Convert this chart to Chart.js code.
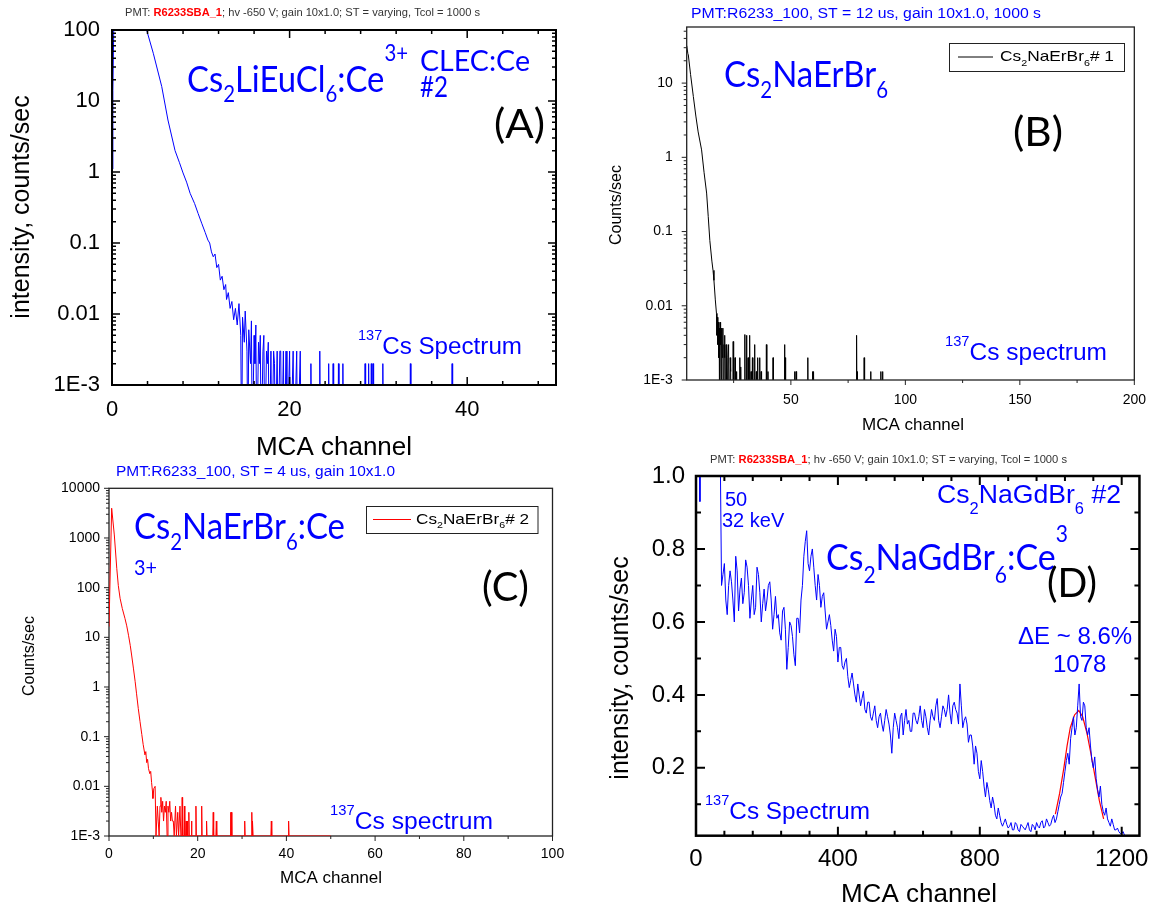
<!DOCTYPE html>
<html>
<head>
<meta charset="utf-8">
<script src="https://cdn.jsdelivr.net/npm/chart.js@4.4.1/dist/chart.umd.min.js"></script>
<style>
  html, body { margin: 0; padding: 0; background: #fff; }
  #wrap { position: relative; width: 1158px; height: 913px; overflow: hidden; background: #fff; }
  #wrap canvas { position: absolute; left: 0; top: 0; }
</style>
</head>
<body>
<div id="wrap">
  <canvas id="pa" width="1158" height="913"></canvas>
  <canvas id="pb" width="1158" height="913"></canvas>
  <canvas id="pc" width="1158" height="913"></canvas>
  <canvas id="pd" width="1158" height="913"></canvas>
</div>
<script>
// ---- data ----
// (A) Cs2LiEuCl6:Ce, [channel, counts/sec]
const aSpec = [[0,1.1],[0.1,14],[0.3,900],[2,500],[3.9,100],[4.65,47],[5.6,16],[6.3,5.4],[7.1,2.0],[7.6,1.35],[8.0,0.97],[8.4,0.72],[8.8,0.5],[9.3,0.36],[9.7,0.26],[10.1,0.19],[10.5,0.14],[10.8,0.11],[11.0,0.1],[11.2,0.075],[11.4,0.064],[11.6,0.07],[11.8,0.045],[12.0,0.05],[12.2,0.03],[12.4,0.034],[12.6,0.022],[12.8,0.026],[12.9,0.016],[13.1,0.02],[13.3,0.012],[13.5,0.015],[13.7,0.0083],[13.9,0.012],[14.1,0.007],[14.3,0.014],[14.5,0.005],[14.6,0],[14.7,0.009],[14.9,0.004],[15.0,0.011],[15.2,0.003],[15.3,0],[15.4,0.006],[15.6,0.002],[15.7,0.008],[15.8,0],[16.0,0.005],[16.1,0.002],[16.2,0.007],[16.3,0],[16.5,0.004],[16.6,0.002],[16.7,0.005],[16.8,0],[17.0,0.003],[17.1,0.005],[17.2,0],[17.4,0.003],[17.5,0.002],[17.6,0.004],[17.7,0],[17.9,0.003],[18.0,0],[18.2,0.003],[18.3,0.002],[18.4,0],[18.6,0.003],[18.7,0],[18.9,0.003],[19.0,0.003],[19.1,0],[19.3,0.003],[19.4,0],[19.6,0.003],[19.7,0],[20.0,0.003],[20.1,0],[20.4,0.003],[20.5,0],[20.8,0.003],[20.9,0],[21.2,0.003],[21.3,0]];
const aSpikeCh  = [22.4, 23.4, 24.4, 24.9, 25.5, 26.0, 28.5, 28.9, 29.2, 29.4, 30.5, 33.6, 38.3];
const aSpikeCps = [0.002, 0.003, 0.002, 0.002, 0.002, 0.002, 0.002, 0.002, 0.002, 0.002, 0.002, 0.002, 0.002];

// (B) Cs2NaErBr6 #1
const bSpec = [[4.5,32],[5.0,25],[5.2,24],[6.2,13],[7.4,6.6],[8.5,3.6],[9.5,2.2],[11.0,1.26],[12.1,0.62],[13.2,0.33],[13.9,0.16],[14.6,0.076],[15.5,0.04],[16.0,0.03],[16.4,0.022],[17.0,0.012],[17.5,0.0079],[17.7,0.004],[17.9,0.007],[18.1,0.003],[18.3,0.006],[18.5,0.002],[18.7,0.005],[18.9,0],[19.1,0.006],[19.3,0.003],[19.5,0.005],[19.7,0],[19.9,0.004],[20.1,0.002],[20.3,0.005],[20.5,0],[20.8,0.003],[21.0,0.002],[21.2,0.004],[21.4,0],[21.7,0.003],[21.9,0.002],[22.1,0],[22.5,0.002],[22.8,0.003],[23.0,0],[23.5,0.002],[23.7,0.0013],[24.0,0]];
const bSpikeCh  = [24.8, 25.6, 26.3, 27.7, 28.2, 29.9, 30.6, 31.3, 32.0, 32.6, 33.2, 34.2, 34.9, 35.5, 36.4, 37.0, 39.3, 40.0, 42.2, 47.2, 47.5, 51.6, 52.3, 57.4, 59.5, 60.0, 78.7, 79.1, 82.0, 84.9, 89.3, 90.0];
const bSpikeCps = [0.0033, 0.002, 0.0013, 0.002, 0.0015, 0.0041, 0.004, 0.002, 0.004, 0.0013, 0.002, 0.003, 0.0013, 0.002, 0.002, 0.0013, 0.003, 0.0013, 0.002, 0.003, 0.002, 0.0013, 0.0013, 0.002, 0.0013, 0.0013, 0.004, 0.0013, 0.002, 0.0013, 0.0013, 0.0013];

// (C) Cs2NaErBr6:Ce #2
const cSpec = [[0,16.5],[0.6,3970],[1.2,1150],[1.75,245],[2.1,110],[2.5,61],[3.0,38],[3.6,24],[4.0,17],[4.4,11],[4.8,6.8],[5.1,4.4],[5.5,2.4],[5.9,1.28],[6.2,0.75],[6.6,0.37],[7.0,0.2],[7.4,0.11],[7.7,0.07],[8.1,0.043],[8.3,0.05],[8.5,0.03],[8.7,0.035],[8.9,0.023],[9.2,0.018],[9.4,0.02],[9.6,0.012],[9.8,0.008],[9.9,0.0057],[10.1,0.009],[10.4,0.01],[10.6,0],[10.9,0.004],[11.1,0.002],[11.3,0],[11.5,0.004],[11.7,0.006],[11.9,0.003],[12.1,0.005],[12.3,0.002],[12.5,0.004],[12.7,0.003],[12.9,0.005],[13.1,0],[13.3,0.004],[13.5,0.003],[13.7,0.005],[13.9,0.002],[14.1,0.003],[14.3,0.002],[14.5,0.002],[14.7,0],[15.0,0.004],[15.2,0],[15.5,0.003],[15.7,0],[16.0,0.004],[16.2,0],[50,0]];
const cSpikeCh  = [16.5, 17.0, 17.4, 17.6, 18.0, 18.6, 19.6, 20.9, 22.0, 23.5, 24.2, 27.4, 27.6, 30.6, 32.2, 32.4, 36.6, 40.5];
const cSpikeCps = [0.006, 0.004, 0.002, 0.002, 0.003, 0.002, 0.004, 0.004, 0.002, 0.003, 0.002, 0.003, 0.003, 0.002, 0.003, 0.002, 0.002, 0.002];

// (D) Cs2NaGdBr6:Ce, linear counts/sec
// channels 64, 72, ... 1208
const dFirstCh = 64, dStepCh = 8;
const dCps = [
  1.20, 0.70, 0.76, 0.62, 0.74, 0.66, 0.78, 0.63, 0.72, 0.68,
  0.75, 0.61, 0.70, 0.64, 0.73, 0.60, 0.69, 0.66, 0.71, 0.58,
  0.67, 0.62, 0.55, 0.64, 0.47, 0.60, 0.56, 0.48, 0.61, 0.66,
  0.78, 0.85, 0.74, 0.80, 0.70, 0.73, 0.64, 0.68, 0.58, 0.62,
  0.55, 0.58, 0.49, 0.53, 0.47, 0.50, 0.42, 0.46, 0.40, 0.43,
  0.37, 0.41, 0.35, 0.38, 0.33, 0.37, 0.31, 0.35, 0.30, 0.36,
  0.32, 0.24, 0.35, 0.31, 0.34, 0.29, 0.36, 0.33, 0.30, 0.35,
  0.32, 0.37, 0.31, 0.34, 0.29, 0.36, 0.33, 0.39, 0.31, 0.37,
  0.34, 0.40, 0.32, 0.38, 0.35, 0.43, 0.31, 0.34, 0.27, 0.29,
  0.21, 0.24, 0.17, 0.19, 0.12, 0.14, 0.09, 0.10, 0.06, 0.07,
  0.04, 0.06, 0.035, 0.05, 0.03, 0.045, 0.025, 0.04, 0.03, 0.05,
  0.025, 0.04, 0.05, 0.035, 0.055, 0.04, 0.05, 0.045, 0.07, 0.06,
  0.10, 0.13, 0.19, 0.24, 0.28, 0.34, 0.31, 0.43, 0.33, 0.37,
  0.29, 0.26, 0.20, 0.17, 0.12, 0.10, 0.07, 0.06, 0.04, 0.045,
  0.03, 0.025, 0.02, 0.015
];
// in-between channels 68, 76, ... 1204
const dMidFirstCh = 68;
const dCpsMid = [
  1.10, 0.73, 0.66, 0.70, 0.71, 0.60, 0.74, 0.69, 0.65, 0.77,
  0.70, 0.66, 0.62, 0.75, 0.68, 0.65, 0.63, 0.70, 0.66, 0.62,
  0.61, 0.57, 0.63, 0.58, 0.53, 0.59, 0.51, 0.61, 0.57, 0.70,
  0.82, 0.76, 0.78, 0.75, 0.66, 0.70, 0.67, 0.63, 0.60, 0.59,
  0.52, 0.56, 0.53, 0.48, 0.49, 0.45, 0.44, 0.43, 0.38, 0.40,
  0.39, 0.36, 0.38, 0.34, 0.35, 0.33, 0.34, 0.32, 0.33, 0.34,
  0.29, 0.31, 0.33, 0.28, 0.35, 0.33, 0.32, 0.30, 0.35, 0.33,
  0.34, 0.33, 0.36, 0.31, 0.33, 0.34, 0.37, 0.33, 0.34, 0.36,
  0.36, 0.35, 0.37, 0.36, 0.32, 0.37, 0.33, 0.32, 0.29, 0.26,
  0.26, 0.19, 0.22, 0.15, 0.16, 0.11, 0.12, 0.07, 0.09, 0.05,
  0.05, 0.045, 0.04, 0.03, 0.05, 0.03, 0.045, 0.035, 0.04, 0.03,
  0.045, 0.03, 0.04, 0.05, 0.035, 0.06, 0.04, 0.06, 0.05, 0.08,
  0.12, 0.16, 0.22, 0.21, 0.31, 0.29, 0.37, 0.34, 0.38, 0.31,
  0.31, 0.22, 0.23, 0.14, 0.15, 0.08, 0.09, 0.05, 0.06, 0.03,
  0.035, 0.02, 0.025
];
const dLowCh = [10, 11, 12];        // low-channel noise spike
const dLowCps = [1.5, 0.93, 1.5];
const dFitCh  = [1013, 1025, 1037, 1046, 1055, 1067, 1079, 1090, 1102, 1113, 1125, 1137, 1149];
const dFitCps = [0.073, 0.13, 0.20, 0.26, 0.31, 0.345, 0.357, 0.34, 0.295, 0.24, 0.175, 0.11, 0.06];

// tick labels
const logLabels = { '-3': '1E-3', '-2': '0.01', '-1': '0.1', '0': '1', '1': '10', '2': '100', '3': '1000', '4': '10000' };
const aXLabels = [0, 20, 40];
const bXLabels = [50, 100, 150, 200];
const cXLabels = [0, 20, 40, 60, 80, 100];
const dXLabels = [0, 400, 800, 1200];
const dYLabels = [0.2, 0.4, 0.6, 0.8, 1.0];

// ---- helpers ----
const SANS = "'Liberation Sans', Arial, sans-serif";
const CAL = "Lato, 'Open Sans', sans-serif";
const BLUE = '#0000ff';
const PAGE_W = 1158, PAGE_H = 913;
Chart.defaults.font.family = SANS;
Chart.defaults.color = '#000';

function spectrum(spec, spikeCh, spikeCps, half, floor) {
  const pts = spec.map(([x, y]) => ({ x, y }));
  spikeCh.forEach((c, i) => {
    pts.push({ x: c - half, y: 0 }, { x: c, y: spikeCps[i] }, { x: c + half, y: 0 });
  });
  pts.sort((p, q) => p.x - q.x);
  return pts.map(p => ({ x: p.x, y: p.y > 0 ? p.y : floor }));
}

function logTicks(min, max) {
  const out = [];
  for (let e = Math.floor(Math.log10(min)); e <= Math.ceil(Math.log10(max)); e++) {
    for (let m = 1; m <= 9; m++) {
      const v = parseFloat((m * Math.pow(10, e)).toPrecision(6));
      if (v >= min * 0.9999 && v <= max * 1.0001) out.push(v);
    }
  }
  return out;
}
function stepTicks(min, max, step) {
  const out = [];
  for (let i = Math.ceil(min / step - 1e-9); i * step <= max + 1e-9; i++) out.push(parseFloat((i * step).toFixed(6)));
  return out;
}
function logLabel(v) {
  const e = Math.log10(v);
  if (Math.abs(e - Math.round(e)) > 1e-6) return '';
  return logLabels[String(Math.round(e))] || '';
}
function listLabel(list, fmt) {
  return v => list.some(l => Math.abs(l - v) < 1e-9) ? fmt(v) : '';
}

function axis(type, min, max, ticks, cb, size, pad) {
  return {
    type, min, max,
    grid: { display: false, drawTicks: false },
    border: { display: false },
    afterBuildTicks: s => { s.ticks = ticks.map(v => ({ value: v })); },
    ticks: { autoSkip: false, maxRotation: 0, minRotation: 0, padding: pad, font: { size }, color: '#000', callback: cb }
  };
}

function parseRich(str) {
  const parts = [];
  const re = /_\{([^}]*)\}|\^\{([^}]*)\}|\[([^\]]*)\]|((?:[^_^\[]|_(?!\{)|\^(?!\{))+)/g;
  let m;
  while ((m = re.exec(str))) {
    if (m[1] !== undefined) parts.push({ s: m[1], k: 'sub' });
    else if (m[2] !== undefined) parts.push({ s: m[2], k: 'sup' });
    else if (m[3] !== undefined) parts.push({ s: m[3], k: 'hl' });
    else parts.push({ s: m[4], k: '' });
  }
  return parts;
}

function drawRich(ctx, it) {
  const size = it.size, fam = it.font || SANS;
  const parts = parseRich(it.text);
  const fontOf = k => {
    const sz = (k === 'sub' || k === 'sup') ? size * (it.ss || 0.62) : size;
    return (k === 'hl' ? 'bold ' : '') + sz + 'px ' + fam;
  };
  ctx.save();
  let total = 0;
  parts.forEach(q => { ctx.font = fontOf(q.k); q.w = ctx.measureText(q.s).width; total += q.w; });
  const sx = it.w ? it.w / total : 1;
  ctx.translate(it.x, it.y);
  if (it.rot) ctx.rotate(it.rot);
  ctx.scale(sx, 1);
  let cx = it.align === 'center' ? -total / 2 : 0;
  ctx.textBaseline = 'middle';
  ctx.textAlign = 'left';
  parts.forEach(q => {
    ctx.font = fontOf(q.k);
    ctx.fillStyle = q.k === 'hl' ? '#ff0000' : (it.color || '#000');
    const dy = q.k === 'sub' ? (it.subDy != null ? it.subDy : size * 0.4)
      : q.k === 'sup' ? (it.supDy != null ? it.supDy : -size * 0.45) : 0;
    ctx.fillText(q.s, cx, dy);
    cx += q.w;
  });
  ctx.restore();
}

function drawFrame(chart, o) {
  const { ctx, chartArea: a } = chart;
  const x = chart.scales.x, y = chart.scales.y;
  const dir = o.inward ? 1 : -1;
  ctx.save();
  ctx.strokeStyle = o.color;
  ctx.lineWidth = o.tickW;
  ctx.beginPath();
  x.ticks.forEach(t => {
    const px = x.getPixelForValue(t.value);
    const len = t.label !== '' ? o.major : o.minor;
    ctx.moveTo(px, a.bottom); ctx.lineTo(px, a.bottom - dir * len);
    if (o.all) { ctx.moveTo(px, a.top); ctx.lineTo(px, a.top + len); }
  });
  y.ticks.forEach(t => {
    const py = y.getPixelForValue(t.value);
    const len = t.label !== '' ? o.major : o.minor;
    ctx.moveTo(a.left, py); ctx.lineTo(a.left + dir * len, py);
    if (o.all) { ctx.moveTo(a.right, py); ctx.lineTo(a.right - len, py); }
  });
  ctx.stroke();
  ctx.lineWidth = o.frame;
  ctx.strokeRect(a.left, a.top, a.right - a.left, a.bottom - a.top);
  ctx.restore();
}

const deco = {
  id: 'deco',
  beforeDatasetsDraw(chart, args, o) { if (!o.frameOnTop) drawFrame(chart, o); },
  afterDatasetsDraw(chart, args, o) { if (o.frameOnTop) drawFrame(chart, o); },
  afterDraw(chart, args, o) {
    const ctx = chart.ctx;
    if (o.legend) {
      const L = o.legend;
      ctx.save();
      ctx.fillStyle = '#fff';
      ctx.fillRect(L.x0, L.y0, L.x1 - L.x0, L.y1 - L.y0);
      ctx.strokeStyle = '#222'; ctx.lineWidth = 1;
      ctx.strokeRect(L.x0 + 0.5, L.y0 + 0.5, L.x1 - L.x0, L.y1 - L.y0);
      ctx.strokeStyle = chart.data.datasets[0].borderColor; ctx.lineWidth = 1;
      const ym = (L.y0 + L.y1) / 2;
      ctx.beginPath(); ctx.moveTo(L.lx0, ym); ctx.lineTo(L.lx1, ym); ctx.stroke();
      ctx.restore();
      drawRich(ctx, L.label);
    }
    o.texts.forEach(t => drawRich(ctx, t));
  }
};

// area: plot frame in page pixels
function makeChart(id, area, datasets, xAx, yAx, decoOpts) {
  xAx.afterFit = s => { s.height = PAGE_H - area.b; };
  yAx.afterFit = s => { s.width = area.l; };
  return new Chart(document.getElementById(id), {
    type: 'scatter',
    data: { datasets },
    options: {
      responsive: false, maintainAspectRatio: false, animation: false, devicePixelRatio: 1,
      layout: { padding: { left: 0, top: area.t, right: PAGE_W - area.r, bottom: 0 } },
      scales: { x: xAx, y: yAx },
      plugins: { legend: { display: false }, tooltip: { enabled: false }, title: { display: false }, deco: decoOpts }
    },
    plugins: [deco]
  });
}

function line(data, color, width) {
  return { data, showLine: true, borderColor: color, borderWidth: width, pointRadius: 0, tension: 0, fill: false };
}

const HALF_PI = -Math.PI / 2;

// ---- (A) ----
makeChart('pa', { l: 112, t: 30, r: 556, b: 385 },
  [line(spectrum(aSpec, aSpikeCh, aSpikeCps, 0.06, 1e-4), BLUE, 1)],
  axis('linear', 0, 50, stepTicks(0, 50, 4), listLabel(aXLabels, String), 22, 12),
  axis('logarithmic', 0.001, 100, logTicks(0.001, 100), logLabel, 22, 12),
  { frameOnTop: true, inward: true, all: true, color: '#000', frame: 2, tickW: 1.5, major: 8, minor: 4,
    texts: [
      { text: 'PMT: [R6233SBA_1]; hv -650 V; gain 10x1.0; ST = varying, Tcol = 1000 s', x: 125, y: 13, size: 10, color: '#333', w: 355 },
      { text: 'Cs_{2}LiEuCl_{6}:Ce^{3+}', x: 187, y: 80, size: 36, font: CAL, color: BLUE, w: 221, subDy: 15, supDy: -26 },
      { text: 'CLEC:Ce', x: 420, y: 62, size: 28, font: CAL, color: BLUE, w: 110 },
      { text: '#2', x: 420, y: 88, size: 28, font: CAL, color: BLUE, w: 28 },
      { text: '(A)', x: 494, y: 125, size: 40, font: CAL, color: '#000', w: 51 },
      { text: '^{137}Cs Spectrum', x: 358, y: 347, size: 24, color: BLUE, w: 164, ss: 0.6, supDy: -11 },
      { text: 'intensity, counts/sec', x: 22, y: 207, size: 25, rot: HALF_PI, align: 'center' },
      { text: 'MCA channel', x: 334, y: 448, size: 26, align: 'center' }
    ] });

// ---- (B) ----
makeChart('pb', { l: 686.7, t: 27, r: 1138, b: 380 },
  [line(spectrum(bSpec, bSpikeCh, bSpikeCps, 0.2, 1e-4), '#000', 1)],
  axis('linear', 4.5, 200, stepTicks(4.5, 200, 25), listLabel(bXLabels, String), 14, 12),
  axis('logarithmic', 0.001, 57, logTicks(0.001, 57), logLabel, 14, 14),
  { frameOnTop: true, inward: false, all: false, color: '#222', frame: 1.3, tickW: 1, major: 5, minor: 3,
    legend: { x0: 949, y0: 43, x1: 1124, y1: 71, lx0: 958, lx1: 993,
      label: { text: 'Cs_{2}NaErBr_{6}# 1', x: 1000, y: 57, size: 15, w: 114, subDy: 6 } },
    texts: [
      { text: 'PMT:R6233_100, ST = 12 us, gain 10x1.0, 1000 s', x: 691, y: 14, size: 14, color: BLUE, w: 350 },
      { text: 'Cs_{2}NaErBr_{6}', x: 724, y: 75, size: 36, font: CAL, color: BLUE, w: 164, subDy: 16 },
      { text: '(B)', x: 1013, y: 133, size: 40, font: CAL, color: '#000', w: 50 },
      { text: '^{137}Cs spectrum', x: 945, y: 353, size: 24, color: BLUE, w: 162, ss: 0.6, supDy: -11 },
      { text: 'Counts/sec', x: 617, y: 205, size: 16, rot: HALF_PI, align: 'center' },
      { text: 'MCA channel', x: 913, y: 425, size: 17, align: 'center' }
    ] });

// ---- (C) ----
makeChart('pc', { l: 109, t: 488.3, r: 552.5, b: 836 },
  [line(spectrum(cSpec, cSpikeCh, cSpikeCps, 0.1, 0.001), '#ff0000', 1)],
  axis('linear', 0, 100, stepTicks(0, 100, 10), listLabel(cXLabels, String), 14, 10),
  axis('logarithmic', 0.001, 10000, logTicks(0.001, 10000), logLabel, 14, 9),
  { frameOnTop: false, inward: false, all: false, color: '#222', frame: 1.3, tickW: 1, major: 5, minor: 3,
    legend: { x0: 366, y0: 506, x1: 537.5, y1: 533, lx0: 373, lx1: 411,
      label: { text: 'Cs_{2}NaErBr_{6}# 2', x: 416, y: 519.5, size: 15, w: 113, subDy: 6 } },
    texts: [
      { text: 'PMT:R6233_100, ST = 4 us, gain 10x1.0', x: 116, y: 472, size: 14, color: BLUE, w: 279 },
      { text: 'Cs_{2}NaErBr_{6}:Ce', x: 134, y: 527, size: 36, font: CAL, color: BLUE, w: 211, subDy: 16 },
      { text: '3+', x: 134, y: 568, size: 22, font: CAL, color: BLUE, w: 23 },
      { text: '(C)', x: 482, y: 588, size: 40, font: CAL, color: '#000', w: 47 },
      { text: '^{137}Cs spectrum', x: 330, y: 822, size: 24, color: BLUE, w: 163, ss: 0.6, supDy: -11 },
      { text: 'Counts/sec', x: 30, y: 656, size: 16, rot: HALF_PI, align: 'center' },
      { text: 'MCA channel', x: 331, y: 878, size: 17, align: 'center' }
    ] });

// ---- (D) ----
const dSpec = dLowCh.map((c, i) => ({ x: c, y: dLowCps[i] }))
  .concat(dCps.map((v, i) => ({ x: dFirstCh + i * dStepCh, y: v })))
  .concat(dCpsMid.map((v, i) => ({ x: dMidFirstCh + i * dStepCh, y: v })))
  .sort((p, q) => p.x - q.x);
const dFit = dFitCh.map((c, i) => ({ x: c, y: dFitCps[i] }));
makeChart('pd', { l: 696, t: 476, r: 1143, b: 835.7 },
  [line(dSpec, BLUE, 1), line(dFit, '#ff0000', 1.2)],
  axis('linear', 0, 1250, stepTicks(0, 1250, 80), listLabel(dXLabels, String), 24, 9),
  axis('linear', 0.014, 1.0, stepTicks(0.1, 1.0, 0.1), listLabel(dYLabels, v => v.toFixed(1)), 24, 11),
  { frameOnTop: true, inward: true, all: true, color: '#000', frame: 2.5, tickW: 2, major: 9, minor: 5,
    texts: [
      { text: 'PMT: [R6233SBA_1]; hv -650 V; gain 10x1.0; ST = varying, Tcol = 1000 s', x: 710, y: 460, size: 10, color: '#333', w: 357 },
      { text: '50', x: 725, y: 500, size: 20, color: BLUE },
      { text: '32 keV', x: 722, y: 521, size: 20, color: BLUE },
      { text: 'Cs_{2}NaGdBr_{6} #2', x: 937, y: 496, size: 26, color: BLUE, w: 184, subDy: 14 },
      { text: 'Cs_{2}NaGdBr_{6}:Ce^{3}', x: 826, y: 558, size: 36, font: CAL, color: BLUE, w: 242, subDy: 18, supDy: -23 },
      { text: '(D)', x: 1047, y: 584, size: 40, font: CAL, color: '#000', w: 50 },
      { text: '\u0394E ~ 8.6%', x: 1018, y: 637, size: 24, color: BLUE },
      { text: '1078', x: 1053, y: 665, size: 24, color: BLUE },
      { text: '^{137}Cs Spectrum', x: 705, y: 812, size: 24, color: BLUE, w: 165, ss: 0.6, supDy: -11 },
      { text: 'intensity, counts/sec', x: 621, y: 668, size: 25, rot: HALF_PI, align: 'center' },
      { text: 'MCA channel', x: 919, y: 895, size: 26, align: 'center' }
    ] });
</script>
</body>
</html>
